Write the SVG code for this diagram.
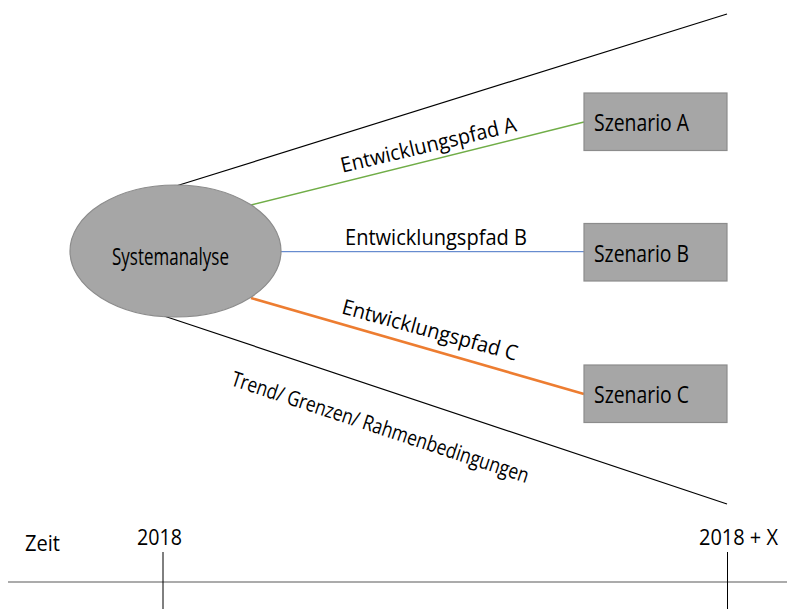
<svg xmlns="http://www.w3.org/2000/svg" width="787" height="609" viewBox="0 0 787 609">
<style>
text{font-family:"Open Sans","Liberation Sans",sans-serif;fill:#000}
.box{fill:#a6a6a6;stroke:#8c8c8c;stroke-width:1.2}
.sz{font-size:24px}
.lbl{font-size:21px}
.bl{stroke:#000;stroke-width:1.2;fill:none}
</style>
<rect width="787" height="609" fill="#fff"/>
<g id="connectors">
<line class="bl" x1="176" y1="186" x2="727" y2="14"/>
<line class="bl" x1="164" y1="316" x2="727" y2="504"/>
<line x1="251" y1="205" x2="584" y2="122" stroke="#70ad47" stroke-width="1.5"/>
<line x1="281" y1="251.7" x2="584" y2="251.7" stroke="#4472c4" stroke-width="1"/>
<line x1="251" y1="298" x2="584" y2="394" stroke="#ed7d31" stroke-width="2.5"/>
</g>
<g id="systemanalyse">
<ellipse class="box" cx="175.5" cy="251" rx="105.5" ry="66"/>
<text x="170.5" y="265" font-size="23" text-anchor="middle" textLength="117" lengthAdjust="spacingAndGlyphs">Systemanalyse</text>
</g>
<g id="szenarioA">
<rect class="box" x="584" y="93" width="143" height="57.5"/>
<text class="sz" x="594" y="131" textLength="95" lengthAdjust="spacingAndGlyphs">Szenario A</text>
</g>
<g id="szenarioB">
<rect class="box" x="584" y="223.5" width="143" height="57.5"/>
<text class="sz" x="594" y="261.5" textLength="95" lengthAdjust="spacingAndGlyphs">Szenario B</text>
</g>
<g id="szenarioC">
<rect class="box" x="584" y="365" width="143" height="57.5"/>
<text class="sz" x="594" y="403" textLength="95" lengthAdjust="spacingAndGlyphs">Szenario C</text>
</g>
<g id="labels">
<text class="lbl" transform="translate(430,152) rotate(-13.4)" text-anchor="middle" textLength="180" lengthAdjust="spacingAndGlyphs">Entwicklungspfad A</text>
<text class="lbl" x="436" y="245" text-anchor="middle" textLength="182" lengthAdjust="spacingAndGlyphs">Entwicklungspfad B</text>
<text class="lbl" transform="translate(428,337) rotate(15.2)" text-anchor="middle" textLength="181" lengthAdjust="spacingAndGlyphs">Entwicklungspfad C</text>
<text class="lbl" font-size="22" transform="translate(378,434) rotate(18.3)" text-anchor="middle" textLength="312" lengthAdjust="spacingAndGlyphs">Trend/ Grenzen/ Rahmenbedingungen</text>
</g>
<g id="timeline">
<line x1="8" y1="582" x2="787" y2="582" stroke="#595959" stroke-width="1.2"/>
<line x1="163" y1="552" x2="163" y2="609" stroke="#000" stroke-width="1"/>
<line x1="727.5" y1="552" x2="727.5" y2="609" stroke="#000" stroke-width="1"/>
<text class="lbl" x="25" y="551" textLength="35" lengthAdjust="spacingAndGlyphs">Zeit</text>
<text class="lbl" font-size="23" x="137" y="545" textLength="45" lengthAdjust="spacingAndGlyphs">2018</text>
<text class="lbl" font-size="23" x="699" y="545" textLength="79" lengthAdjust="spacingAndGlyphs">2018 + X</text>
</g>
</svg>
